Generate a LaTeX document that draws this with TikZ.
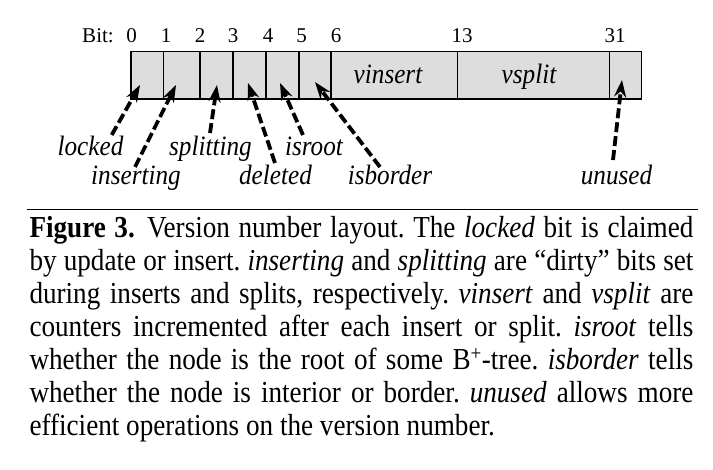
\documentclass[tikz,border=0pt]{standalone}
\usepackage{fontspec}
\setmainfont{Liberation Serif}
\usepackage{graphicx}
\usetikzlibrary{arrows.meta}
\definecolor{cellgray}{RGB}{221,221,221}
\newcommand{\lsx}[1]{\scalebox{0.9}[1]{#1}}
\newcommand{\csx}[1]{\scalebox{0.89}[1]{#1}}
\frenchspacing
\tikzset{
  cellbox/.style={draw=black, line width=1.2pt, fill=cellgray, inner sep=0pt, minimum height=47.5pt},
  bitnum/.style={inner sep=0pt, anchor=base, font=\fontsize{21}{23}\selectfont},
  fieldtxt/.style={inner sep=0pt, anchor=base, font=\fontsize{28}{30}\selectfont\itshape},
  lbl/.style={inner sep=0pt, anchor=base, font=\fontsize{28}{30}\selectfont\itshape},
  ptr/.style={line width=3.8pt, dash pattern=on 10pt off 4pt, -{Stealth[length=17pt,width=12pt]}},
  capline/.style={inner sep=0pt, anchor=base west, font=\fontsize{30.5}{33}\selectfont},
}
\begin{document}
\begin{tikzpicture}[x=1pt,y=1pt]
\useasboundingbox (0,0) rectangle (713,-470);
% cells
\node[cellbox, minimum width=32.5pt] (c0) at (147.25,-75.25) {};
\node[cellbox, minimum width=36.5pt] (c1) at (181.75,-75.25) {};
\node[cellbox, minimum width=33pt] (c2) at (216.5,-75.25) {};
\node[cellbox, minimum width=33pt] (c3) at (249.5,-75.25) {};
\node[cellbox, minimum width=33pt] (c4) at (282.5,-75.25) {};
\node[cellbox, minimum width=32pt] (c5) at (315,-75.25) {};
\node[cellbox, minimum width=126.5pt] (cv) at (394.25,-75.25) {};
\node[cellbox, minimum width=152pt] (cs) at (533.5,-75.25) {};
\node[cellbox, minimum width=32pt] (cu) at (625.5,-75.25) {};
\node[fieldtxt] (tv) at (388,-84) {\lsx{vinsert}};
\node[fieldtxt] (ts) at (529,-84) {\lsx{vsplit}};
% bit numbers
\node[bitnum] (bit) at (98,-43) {Bit:};
\node[bitnum] (b0) at (131.5,-43) {0};
\node[bitnum] (b1) at (166,-43) {1};
\node[bitnum] (b2) at (200,-43) {2};
\node[bitnum] (b3) at (233,-43) {3};
\node[bitnum] (b4) at (268,-43) {4};
\node[bitnum] (b5) at (301.5,-43) {5};
\node[bitnum] (b6) at (336,-43) {6};
\node[bitnum] (b13) at (462,-43) {13};
\node[bitnum] (b31) at (615,-43) {31};
% labels
\node[lbl] (locked) at (90.5,-156) {\lsx{locked}};
\node[lbl] (inserting) at (136,-185) {\lsx{inserting}};
\node[lbl] (splitting) at (210.5,-156) {\lsx{splitting}};
\node[lbl] (deleted) at (275.5,-185) {\lsx{deleted}};
\node[lbl] (isroot) at (314,-156) {\lsx{isroot}};
\node[lbl] (isborder) at (390,-185) {\lsx{isborder}};
\node[lbl] (unused) at (616.5,-185) {\lsx{unused}};
% arrow ends
\coordinate (t0) at (111.7,-135);  \coordinate (h0) at (140,-85);
\coordinate (t1) at (135,-167);    \coordinate (h1) at (176,-85);
\coordinate (t2) at (210,-133);    \coordinate (h2) at (217,-85);
\coordinate (t3) at (275,-163);    \coordinate (h3) at (248,-83);
\coordinate (t4) at (303,-135);    \coordinate (h4) at (280,-83);
\coordinate (t5) at (380,-167);    \coordinate (h5) at (315,-82);
\coordinate (t6) at (613,-160);    \coordinate (h6) at (622,-80);
\draw[ptr] (t0) -- (h0);
\draw[ptr] (t1) -- (h1);
\draw[ptr] (t2) -- (h2);
\draw[ptr] (t3) -- (h3);
\draw[ptr] (t4) -- (h4);
\draw[ptr] (t5) -- (h5);
\draw[ptr] (t6) -- (h6);
% rule
\coordinate (rl) at (27,-209.5);
\coordinate (rr) at (698,-209.5);
\draw[line width=1.3pt] (rl) -- (rr);
% caption
\node[capline] (cap1) at (29.3,-237.5) {\csx{\makebox[746pt][s]{\textbf{Figure 3.}\hspace{0.45em}Version number layout. The \textit{locked} bit is claimed}}};
\node[capline] (cap2) at (29.3,-270.5) {\csx{\makebox[746pt][s]{by update or insert. \textit{inserting} and \textit{splitting} are “dirty” bits set}}};
\node[capline] (cap3) at (29.3,-303.5) {\csx{\makebox[746pt][s]{during inserts and splits, respectively. \textit{vinsert} and \textit{vsplit} are}}};
\node[capline] (cap4) at (29.3,-336.5) {\csx{\makebox[746pt][s]{counters incremented after each insert or split. \textit{isroot} tells}}};
\node[capline] (cap5) at (29.3,-369.5) {\csx{\makebox[746pt][s]{whether the node is the root of some B\textsuperscript{+}-tree. \textit{isborder} tells}}};
\node[capline] (cap6) at (29.3,-402.5) {\csx{\makebox[746pt][s]{whether the node is interior or border. \textit{unused} allows more}}};
\node[capline] (cap7) at (29.3,-435.5) {\csx{efficient operations on the version number.}};
\end{tikzpicture}
\end{document}
